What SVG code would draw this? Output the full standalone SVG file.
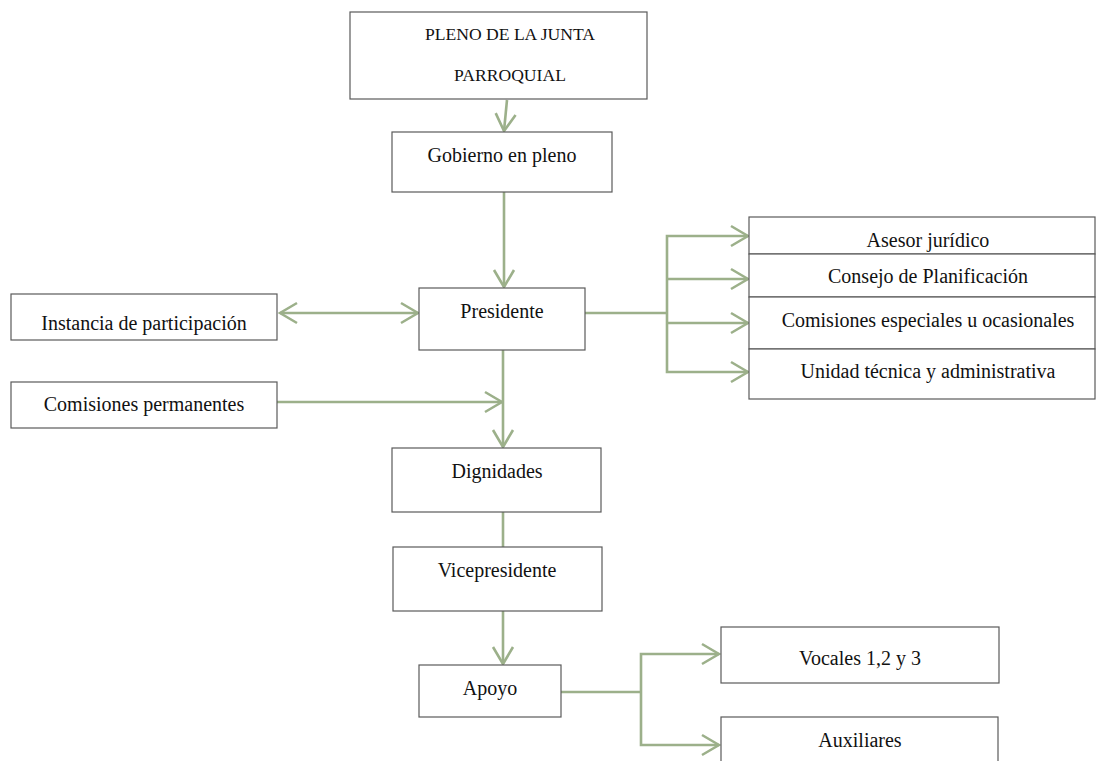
<svg xmlns="http://www.w3.org/2000/svg" width="1097" height="761" viewBox="0 0 1097 761">
<style>
.box{fill:#ffffff;stroke:#5a5a5a;stroke-width:1.2}
.t{font-family:"Liberation Serif","Times New Roman",serif;font-size:20px;fill:#111;text-anchor:middle}
.ts{font-family:"Liberation Serif","Times New Roman",serif;font-size:17.6px;fill:#111;text-anchor:middle}
.c{fill:none;stroke:#9cb08a;stroke-width:2.6}
</style>
<defs>
<marker id="ah" viewBox="-19 -12 21 24" markerWidth="21" markerHeight="24" refX="0" refY="0" orient="auto-start-reverse" markerUnits="userSpaceOnUse">
<path d="M -17 -10 L 0 0 L -17 10" fill="none" stroke="#9cb08a" stroke-width="2.6"/>
</marker>
</defs>
<rect width="1097" height="761" fill="#ffffff"/>
<g id="connectors">
<line class="c" x1="507" y1="100" x2="504" y2="131" marker-end="url(#ah)"/>
<line class="c" x1="504" y1="192" x2="504" y2="287" marker-end="url(#ah)"/>
<line class="c" x1="280" y1="313" x2="418" y2="313" marker-start="url(#ah)" marker-end="url(#ah)"/>
<polyline class="c" points="585,313 667,313"/>
<polyline class="c" points="748,236 667,236 667,372 748,372" marker-start="url(#ah)" marker-end="url(#ah)"/>
<line class="c" x1="667" y1="279" x2="748" y2="279" marker-end="url(#ah)"/>
<line class="c" x1="667" y1="323" x2="748" y2="323" marker-end="url(#ah)"/>
<line class="c" x1="277" y1="402" x2="502" y2="402" marker-end="url(#ah)"/>
<line class="c" x1="503" y1="350" x2="503" y2="447" marker-end="url(#ah)"/>
<line class="c" x1="503" y1="512" x2="503" y2="547"/>
<line class="c" x1="503" y1="611" x2="503" y2="664" marker-end="url(#ah)"/>
<polyline class="c" points="561,692 641,692"/>
<polyline class="c" points="719,654 641,654 641,745 719,745" marker-start="url(#ah)" marker-end="url(#ah)"/>
</g>
<g id="pleno">
<rect class="box" x="350" y="12" width="297" height="87"/>
<text class="ts" x="510" y="40">PLENO DE LA JUNTA</text>
<text class="ts" x="510" y="81">PARROQUIAL</text>
</g>
<g id="gobierno">
<rect class="box" x="392" y="132" width="220" height="60"/>
<text class="t" x="502" y="162">Gobierno en pleno</text>
</g>
<g id="presidente">
<rect class="box" x="419" y="288" width="166" height="62"/>
<text class="t" x="502" y="318">Presidente</text>
</g>
<g id="instancia">
<rect class="box" x="11" y="294" width="266" height="46"/>
<text class="t" x="144" y="330">Instancia de participación</text>
</g>
<g id="comisiones-permanentes">
<rect class="box" x="11" y="382" width="266" height="46"/>
<text class="t" x="144" y="411">Comisiones permanentes</text>
</g>
<g id="asesor">
<rect class="box" x="749" y="217" width="346" height="37"/>
<text class="t" x="928" y="247">Asesor jurídico</text>
</g>
<g id="consejo">
<rect class="box" x="749" y="254" width="346" height="43"/>
<text class="t" x="928" y="283">Consejo de Planificación</text>
</g>
<g id="comisiones-especiales">
<rect class="box" x="749" y="297" width="346" height="52"/>
<text class="t" x="928" y="327">Comisiones especiales u ocasionales</text>
</g>
<g id="unidad">
<rect class="box" x="749" y="349" width="346" height="50"/>
<text class="t" x="928" y="378">Unidad técnica y administrativa</text>
</g>
<g id="dignidades">
<rect class="box" x="392" y="448" width="209" height="64"/>
<text class="t" x="497" y="478">Dignidades</text>
</g>
<g id="vicepresidente">
<rect class="box" x="393" y="547" width="209" height="64"/>
<text class="t" x="497" y="577">Vicepresidente</text>
</g>
<g id="apoyo">
<rect class="box" x="419" y="665" width="142" height="52"/>
<text class="t" x="490" y="695">Apoyo</text>
</g>
<g id="vocales">
<rect class="box" x="721" y="627" width="278" height="56"/>
<text class="t" x="860" y="665">Vocales 1,2 y 3</text>
</g>
<g id="auxiliares">
<rect class="box" x="721" y="717" width="277" height="60"/>
<text class="t" x="860" y="747">Auxiliares</text>
</g>
</svg>
